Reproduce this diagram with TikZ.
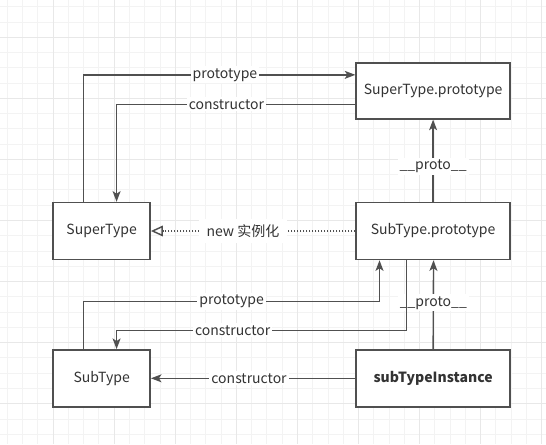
\documentclass[tikz,border=0pt]{standalone}
\usepackage{fontspec}
\setmainfont{Noto Sans CJK SC}
\usetikzlibrary{arrows.meta}
\definecolor{edgegray}{HTML}{505050}
\definecolor{textgray}{HTML}{333333}
\definecolor{gridminor}{HTML}{F3F3F3}
\definecolor{gridmajor}{HTML}{E8E8E8}

\begin{document}
\begin{tikzpicture}[
  x=0.75pt,
  y=-0.75pt,
  font=\fontsize{10.5}{12}\selectfont,
  objbox/.style={draw=edgegray, line width=1.1pt, fill=white, text=textgray,
    minimum height=42.75pt, inner sep=0pt},
  widebox/.style={objbox, minimum width=115.5pt},
  narrowbox/.style={objbox, minimum width=72.75pt},
  link/.style={draw=edgegray, line width=1pt,
    -{Stealth[length=8pt, width=6pt, inset=2pt]}},
  newlink/.style={draw=edgegray, line width=0.9pt, dash pattern=on 0.75pt off 1.5pt,
    -{Triangle[open, length=9pt, width=8pt, line width=1.1pt]}},
  lbl/.style={fill=white, text=textgray, inner sep=1.5pt}
]
\useasboundingbox (0,0) rectangle (546,444);
\fill[white] (0,0) rectangle (546,444);

% background grid
\foreach \k in {0,...,35} {
  \draw[gridminor, line width=0.7pt] (7.3+15.27*\k,0) -- (7.3+15.27*\k,444);
}
\foreach \k in {0,...,28} {
  \draw[gridminor, line width=0.7pt] (0,6.7+15.27*\k) -- (546,6.7+15.27*\k);
}
\foreach \k in {3,7,...,35} {
  \draw[gridmajor, line width=0.7pt] (7.3+15.27*\k,0) -- (7.3+15.27*\k,444);
}
\foreach \k in {2,6,...,26} {
  \draw[gridmajor, line width=0.7pt] (0,6.7+15.27*\k) -- (546,6.7+15.27*\k);
}

% objects
\node[widebox, minimum height=42pt] (stp) at (433.1,90.85) {SuperType.prototype};
\node[narrowbox] (st) at (101.65,231) {SuperType};
\node[widebox] (sbp) at (433.1,231) {SubType.prototype};
\node[narrowbox] (sb) at (101.65,378.3) {SubType};
\node[widebox, font=\fontsize{10.5}{12}\selectfont\bfseries] (inst) at (433.1,378.3) {subTypeInstance};

% SuperType <-> SuperType.prototype
\draw[link] ([xshift=-13.5pt]st.north) |- node[lbl, pos=0.76] {prototype} ([yshift=12pt]stp.west);
\draw[link] ([yshift=-10.2pt]stp.west) -| node[lbl, pos=0.27] {constructor} ([xshift=11.2pt]st.north);

% prototype chain
\draw[link] (sbp.north) -- node[lbl, pos=0.43] {\_\_proto\_\_} (stp.south);
\draw[link] (inst.north) -- node[lbl, pos=0.52] {\_\_proto\_\_} ([xshift=0.3pt]sbp.south);
\draw[newlink] (sbp.west) -- node[lbl, pos=0.55, inner xsep=6pt, inner ysep=4pt] {new 实例化} (st.east);

% SubType <-> SubType.prototype
\draw[link] ([xshift=-13.5pt]sb.north) -- ++(0,-47.7) -| node[lbl, pos=0.25] {prototype} ([xshift=-40.2pt]sbp.south);
\draw[link] ([xshift=-19.8pt]sbp.south) -- ++(0,70) -| node[lbl, pos=0.3] {constructor} ([xshift=11.2pt]sb.north);

% instance
\draw[link] (inst.west) -- node[lbl, pos=0.52] {constructor} (sb.east);
\end{tikzpicture}
\end{document}
